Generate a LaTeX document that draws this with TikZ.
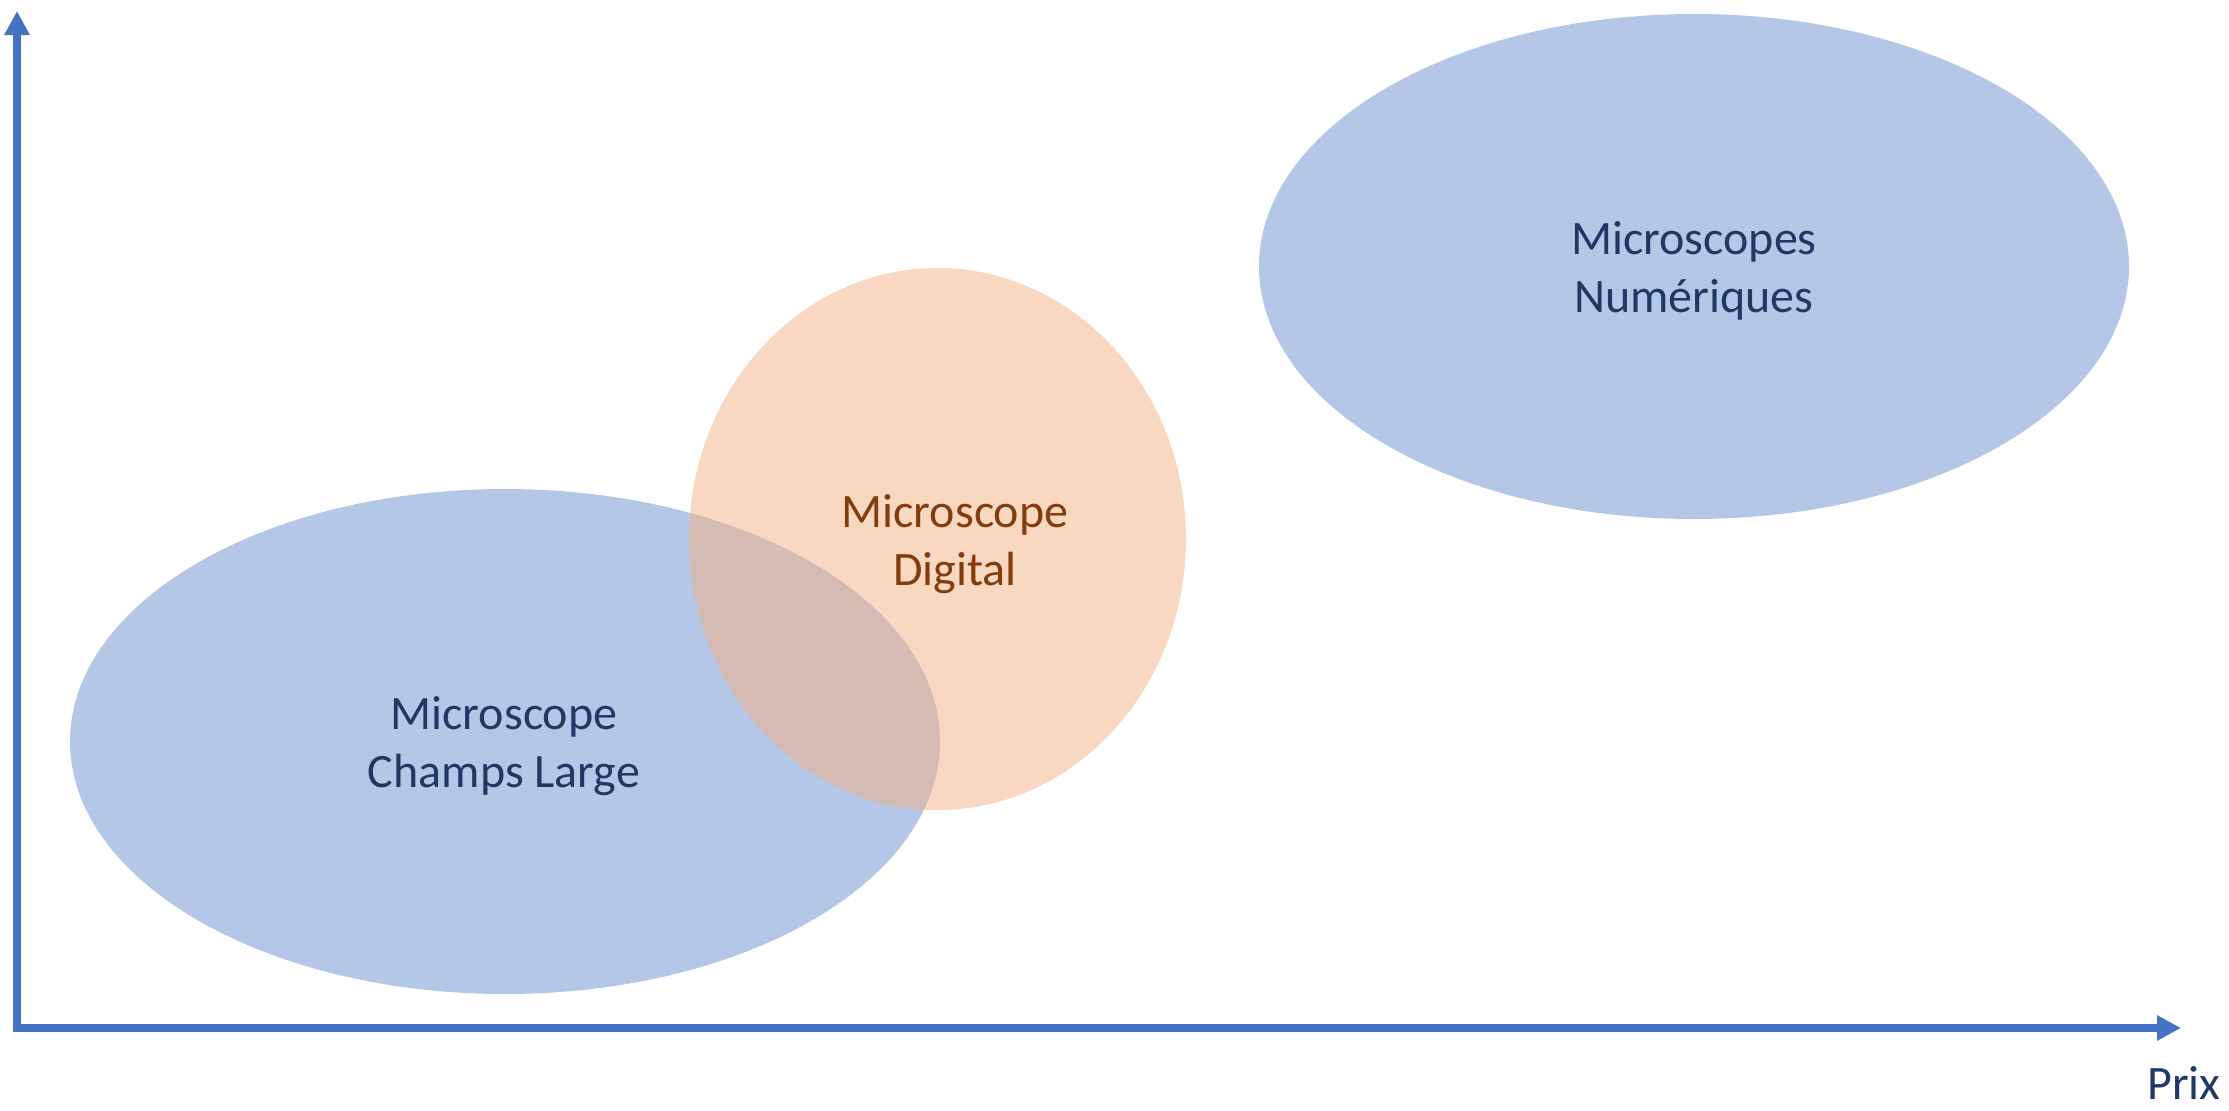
\documentclass[tikz,border=0pt]{standalone}
\usepackage{fontspec}
\setmainfont{Carlito}
\usetikzlibrary{shapes.geometric,arrows.meta}
\definecolor{axisblue}{HTML}{4472C4}
\definecolor{fillblue}{HTML}{B4C7E7}
\definecolor{fillorange}{HTML}{F4B183}
\definecolor{textblue}{HTML}{203864}
\definecolor{textorange}{HTML}{843C0C}
\tikzset{
  zone/.style={ellipse, draw=none, inner sep=0pt},
  bluezone/.style={zone, fill=fillblue},
  orangezone/.style={zone, fill=fillorange, fill opacity=0.5},
  lbl/.style={align=center, inner sep=0pt, font=\fontsize{24}{29}\selectfont},
  axisline/.style={draw=axisblue, line width=4pt, -{Triangle[length=12pt,width=12pt]}}
}
\begin{document}
\begin{tikzpicture}[x=0.5pt,y=-0.5pt]
\useasboundingbox (0,0) rectangle (2229,1110);
% zones
\node[bluezone, minimum width=435pt, minimum height=252.5pt] (champs) at (505,741.5) {};
\node[bluezone, minimum width=435pt, minimum height=252.5pt] (num) at (1694,266.5) {};
\node[orangezone, minimum width=248.5pt, minimum height=271pt] (digital) at (937.5,539) {};
% labels
\node[lbl, text=textblue] (champsL) at (504,746) {Microscope\\Champs Large};
\node[lbl, text=textblue] (numL) at (1694,271) {Microscopes\\Numériques};
\node[lbl, text=textorange] (digitalL) at (955,544) {Microscope\\Digital};
% axes
\coordinate (origin) at (17,1028);
\coordinate (xstart) at (13,1028);
\coordinate (ytip) at (17,11);
\coordinate (xtip) at (2181,1028);
\draw[axisline] (origin) -- (ytip);
\draw[axisline] (xstart) -- (xtip);
\node[lbl, text=textblue, anchor=base] (prix) at (2184,1099) {Prix};
\end{tikzpicture}
\end{document}
